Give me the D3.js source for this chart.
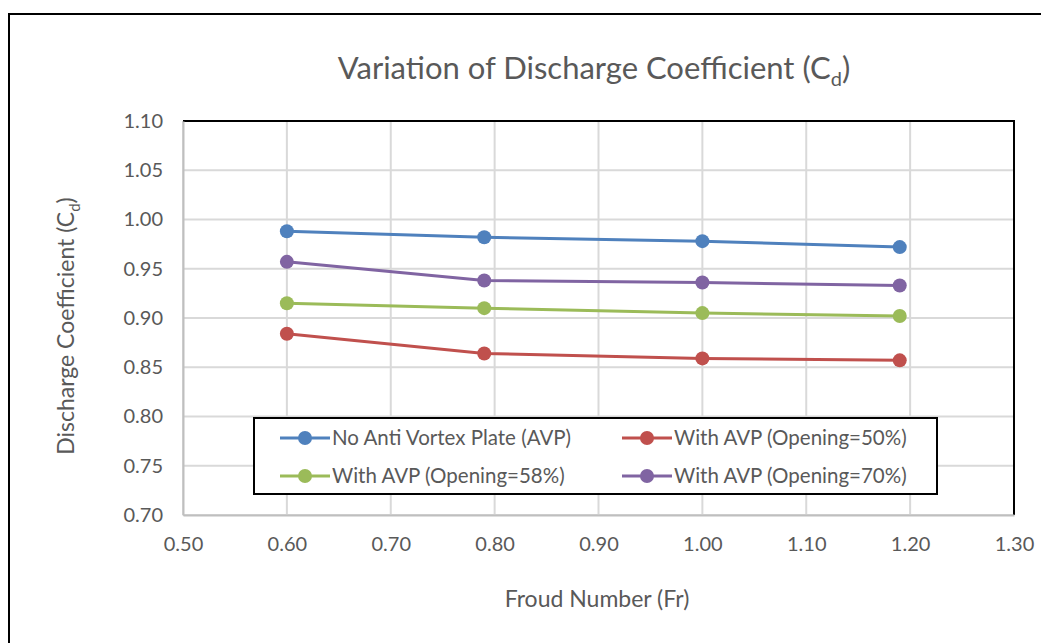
<!DOCTYPE html>
<html>
<head>
<meta charset="utf-8">
<script src="https://cdn.jsdelivr.net/npm/d3@7"></script>
<style>
  body { margin: 0; background: #fff; }
  text { font-family: Lato, "Open Sans", sans-serif; }
</style>
</head>
<body>
<svg id="chart"></svg>
<script>
// Dados
var froude = [0.60, 0.79, 1.00, 1.19];
var semPlaca = [0.988, 0.982, 0.978, 0.972];
var avp50 = [0.884, 0.864, 0.859, 0.857];
var avp58 = [0.915, 0.910, 0.905, 0.902];
var avp70 = [0.957, 0.938, 0.936, 0.933];
var seriesNames = ["No Anti Vortex Plate (AVP)", "With AVP (Opening=50%)",
                   "With AVP (Opening=58%)", "With AVP (Opening=70%)"];
var xTicks = [0.5, 0.6, 0.7, 0.8, 0.9, 1.0, 1.1, 1.2, 1.3];
var yTicks = [0.70, 0.75, 0.80, 0.85, 0.90, 0.95, 1.00, 1.05, 1.10];

var cores = ["#4F81BD", "#C0504D", "#9BBB59", "#8064A2"];
var series = [semPlaca, avp50, avp58, avp70];

var W = 1041, H = 643;
var margin = {top: 121, left: 183, right: 1041 - 1014, bottom: 643 - 515};
var width = W - margin.left - margin.right,
    height = H - margin.top - margin.bottom;

var svg = d3.select("#chart").attr("width", W).attr("height", H);

// Borda externa (cortada à direita e embaixo)
svg.append("rect")
  .attr("x", 9).attr("y", 14)
  .attr("width", 1100).attr("height", 700)
  .attr("fill", "#fff").attr("stroke", "#000").attr("stroke-width", 2);

// Título
var title = svg.append("text")
  .attr("x", 594).attr("y", 79)
  .attr("text-anchor", "middle")
  .style("font-size", "31px")
  .attr("fill", "#595959");
title.append("tspan").text("Variation of Discharge Coefficient (C");
title.append("tspan").attr("dy", 7).style("font-size", "20px").text("d");
title.append("tspan").attr("dy", -7).text(")");

var g = svg.append("g").attr("transform", "translate(" + margin.left + "," + margin.top + ")");

var x = d3.scaleLinear().domain([0.5, 1.3]).range([0, width]);
var y = d3.scaleLinear().domain([0.7, 1.1]).range([height, 0]);

// Linhas de grade
g.selectAll(".gx").data(xTicks).enter().append("line")
  .attr("x1", function(d) { return x(d); }).attr("x2", function(d) { return x(d); })
  .attr("y1", 0).attr("y2", height)
  .attr("stroke", "#D9D9D9").attr("stroke-width", 2);
g.selectAll(".gy").data(yTicks).enter().append("line")
  .attr("x1", 0).attr("x2", width)
  .attr("y1", function(d) { return y(d); }).attr("y2", function(d) { return y(d); })
  .attr("stroke", "#D9D9D9").attr("stroke-width", 2);

// Borda da área de plotagem (topo e direita pretos)
g.append("path")
  .attr("d", "M0,0H" + width + "V" + height)
  .attr("fill", "none").attr("stroke", "#000").attr("stroke-width", 2);

// Eixos
var xAxis = g.append("g")
  .attr("transform", "translate(0," + height + ")")
  .call(d3.axisBottom(x).tickValues(xTicks).tickFormat(d3.format(".2f")).tickSize(0).tickPadding(22));
var yAxis = g.append("g")
  .call(d3.axisLeft(y).tickValues(yTicks).tickFormat(d3.format(".2f")).tickSize(0).tickPadding(20));
[xAxis, yAxis].forEach(function(a) {
  a.select(".domain").attr("stroke", "#BFBFBF").attr("stroke-width", 2);
  a.selectAll("text").attr("fill", "#595959").style("font-size", "20px")
    .style("font-family", "Lato, 'Open Sans', sans-serif");
});

// Séries
var linha = d3.line()
  .x(function(d, i) { return x(froude[i]); })
  .y(function(d) { return y(d); });

series.forEach(function(s, k) {
  g.append("path").datum(s)
    .attr("d", linha)
    .attr("fill", "none")
    .attr("stroke", cores[k])
    .attr("stroke-width", 3);
  g.selectAll(".p" + k).data(s).enter().append("circle")
    .attr("cx", function(d, i) { return x(froude[i]); })
    .attr("cy", function(d) { return y(d); })
    .attr("r", 7)
    .attr("fill", cores[k]);
});

// Legenda
var leg = svg.append("g");
leg.append("rect")
  .attr("x", 254).attr("y", 418).attr("width", 683).attr("height", 76)
  .attr("fill", "#fff").attr("stroke", "#000").attr("stroke-width", 2);
var legPos = [[280, 438], [622, 438], [280, 476], [622, 476]];
seriesNames.forEach(function(n, k) {
  var p = legPos[k];
  leg.append("line")
    .attr("x1", p[0]).attr("x2", p[0] + 50)
    .attr("y1", p[1]).attr("y2", p[1])
    .attr("stroke", cores[k]).attr("stroke-width", 3);
  leg.append("circle").attr("cx", p[0] + 25).attr("cy", p[1]).attr("r", 7).attr("fill", cores[k]);
  leg.append("text")
    .attr("x", p[0] + 52).attr("y", p[1] + 7)
    .attr("fill", "#595959").style("font-size", "20.5px")
    .text(n);
});

// Rótulos dos eixos
svg.append("text")
  .attr("x", 597).attr("y", 607)
  .attr("text-anchor", "middle")
  .attr("fill", "#595959").style("font-size", "23px")
  .text("Froud Number (Fr)");

var yl = svg.append("text")
  .attr("transform", "translate(74,326) rotate(-90)")
  .attr("text-anchor", "middle")
  .attr("fill", "#595959").style("font-size", "23px");
yl.append("tspan").text("Discharge Coefficient (C");
yl.append("tspan").attr("dy", 6).style("font-size", "15px").text("d");
yl.append("tspan").attr("dy", -6).text(")");
</script>
</body>
</html>
